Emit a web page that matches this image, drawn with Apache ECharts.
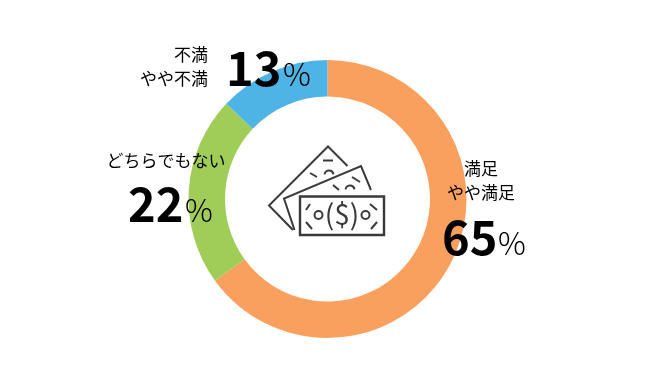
<!DOCTYPE html>
<html>
<head>
<meta charset="utf-8">
<script src="https://cdn.jsdelivr.net/npm/echarts@6/dist/echarts.min.js"></script>
<style>
  html, body { margin: 0; padding: 0; background: #fff; }
  #chart { width: 650px; height: 370px; }
</style>
</head>
<body>
<div id="chart"></div>
<script>
const categories = ['満足・やや満足', 'どちらでもない', '不満・やや不満'];
const values = [65, 22, 13];
const colors = ['#F9A05E', '#A0CC58', '#4EB4E6'];
const labelLines = [['満足', 'やや満足'], ['どちらでもない'], ['不満', 'やや不満']];

const jpFont = '"Noto Sans CJK JP", "Noto Sans", sans-serif';
const iconColor = '#3a3a3a';

const chart = echarts.init(document.getElementById('chart'), null, { renderer: 'canvas' });

function text(x, y, str, size, weight, align) {
  return {
    type: 'text', x: x, y: y, z: 10,
    style: {
      text: str, fill: '#000', font: weight + ' ' + size + 'px ' + jpFont,
      align: align, verticalAlign: 'middle'
    }
  };
}

function line(x1, y1, x2, y2) {
  return {
    type: 'line', z: 5,
    shape: { x1: x1, y1: y1, x2: x2, y2: y2 },
    style: { stroke: iconColor, lineWidth: 2, fill: null }
  };
}

function poly(points) {
  return {
    type: 'polyline', z: 5,
    shape: { points: points },
    style: { stroke: iconColor, lineWidth: 2, fill: null }
  };
}

function arc(cx, cy, r, start, end) {
  return {
    type: 'arc', z: 5,
    shape: { cx: cx, cy: cy, r: r, startAngle: start, endAngle: end, clockwise: true },
    style: { stroke: iconColor, lineWidth: 2, fill: null }
  };
}

// 紙幣アイコン
const icon = [
  poly([[293, 230], [269, 205.5], [328, 146.5], [347.5, 166]]),
  poly([[294.5, 230], [284, 198.5], [361, 166], [371, 190]]),
  {
    type: 'rect', z: 5,
    shape: { x: 300, y: 196.5, width: 84, height: 38.5 },
    style: { stroke: iconColor, lineWidth: 2.4, fill: '#fff' }
  },
  line(323, 160.5, 333, 160.5),
  line(310, 173, 317, 177),
  arc(329, 175, 4.5, Math.PI * 1.05, Math.PI * 1.95),
  line(352, 177, 360, 182),
  line(333, 185, 339, 190),
  arc(350, 190, 4.5, Math.PI * 1.05, Math.PI * 1.95),
  line(310, 204, 306, 210),
  line(306, 222, 312, 229),
  line(370, 204, 377, 210),
  line(377, 222, 371, 229),
  { type: 'circle', z: 6, shape: { cx: 318.5, cy: 215, r: 4 }, style: { stroke: iconColor, lineWidth: 2, fill: null } },
  { type: 'circle', z: 6, shape: { cx: 365.5, cy: 215, r: 4 }, style: { stroke: iconColor, lineWidth: 2, fill: null } },
  {
    type: 'text', x: 342, y: 214, z: 6,
    style: { text: '($)', fill: iconColor, font: '400 28px ' + jpFont, align: 'center', verticalAlign: 'middle' }
  }
];

const labels = [
  text(481, 169, labelLines[0][0], 17, 400, 'center'),
  text(481, 193, labelLines[0][1], 17, 400, 'center'),
  text(442, 237, String(values[0]), 47, 700, 'left'),
  text(498, 243, '%', 31, 300, 'left'),
  text(166, 161, labelLines[1][0], 17, 400, 'center'),
  text(128, 204, String(values[1]), 47, 700, 'left'),
  text(185, 210, '%', 31, 300, 'left'),
  text(208, 55, labelLines[2][0], 17, 400, 'right'),
  text(208, 79, labelLines[2][1], 17, 400, 'right'),
  text(226, 68, String(values[2]), 47, 700, 'left'),
  text(283, 74, '%', 31, 300, 'left')
];

chart.setOption({
  animation: false,
  graphic: { elements: icon.concat(labels) },
  series: [
    {
      type: 'pie',
      center: [327.5, 199],
      radius: [102.5, 139],
      startAngle: 90,
      clockwise: true,
      silent: true,
      label: { show: false },
      labelLine: { show: false },
      data: categories.map((name, i) => ({
        name: name,
        value: values[i],
        itemStyle: { color: colors[i] }
      }))
    }
  ]
});
</script>
</body>
</html>
